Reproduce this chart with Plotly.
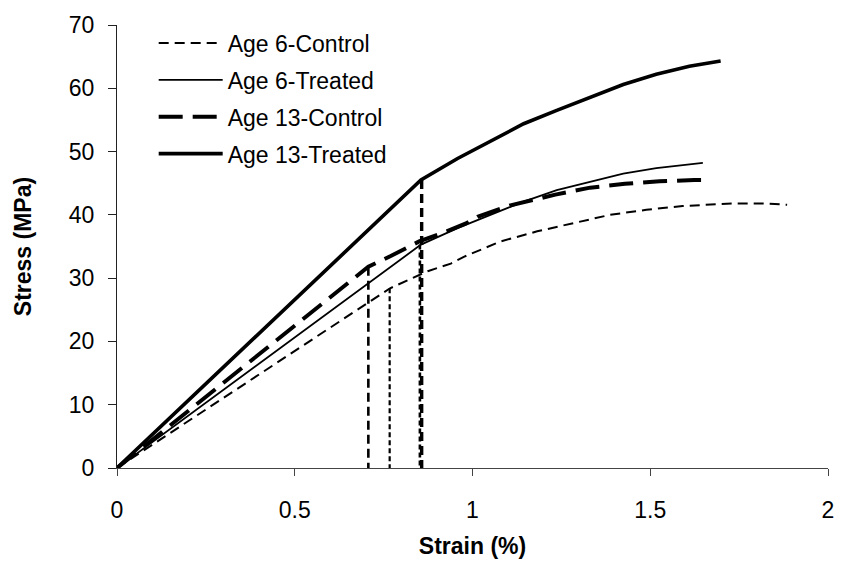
import plotly.graph_objects as go

# ---- data ----
age6_ctrl_strain = [0, 0.768, 0.874, 0.939, 0.977, 1.079, 1.182, 1.284, 1.387, 1.489, 1.591, 1.731, 1.824, 1.885]
age6_ctrl_stress = [0, 28.4, 31.1, 32.3, 33.4, 35.8, 37.4, 38.7, 40.0, 40.8, 41.4, 41.8, 41.8, 41.6]

age6_trt_strain = [0, 0.855, 0.958, 1.051, 1.144, 1.237, 1.331, 1.424, 1.517, 1.610, 1.648]
age6_trt_stress = [0, 35.3, 37.9, 40.0, 42.1, 43.9, 45.2, 46.5, 47.4, 47.9, 48.2]

age13_ctrl_strain = [0, 0.707, 0.77, 0.85, 0.91, 0.98, 1.014, 1.107, 1.233, 1.331, 1.429, 1.526, 1.624, 1.66]
age13_ctrl_stress = [0, 31.8, 33.5, 35.8, 37.0, 38.6, 39.7, 41.5, 43.2, 44.3, 44.9, 45.3, 45.5, 45.5]

age13_trt_strain = [0, 0.855, 0.958, 1.051, 1.144, 1.237, 1.331, 1.424, 1.517, 1.610, 1.698]
age13_trt_stress = [0, 45.5, 48.9, 51.7, 54.4, 56.5, 58.5, 60.6, 62.2, 63.5, 64.3]

# yield-point drop lines: (strain, stress at top)
yield_age6_ctrl = (0.767, 28.4)
yield_age6_trt = (0.852, 35.3)
yield_age13_ctrl = (0.707, 31.8)
yield_age13_trt = (0.857, 45.5)

x_ticks = [0, 0.5, 1, 1.5, 2]
x_tick_labels = ["0", "0.5", "1", "1.5", "2"]
y_ticks = [0, 10, 20, 30, 40, 50, 60, 70]

fig = go.Figure()

series = [
    ("Age 6-Control", age6_ctrl_strain, age6_ctrl_stress, dict(color="black", width=2, dash="10px,6px")),
    ("Age 6-Treated", age6_trt_strain, age6_trt_stress, dict(color="black", width=1.8)),
    ("Age 13-Control", age13_ctrl_strain, age13_ctrl_stress, dict(color="black", width=4, dash="24px,10px")),
    ("Age 13-Treated", age13_trt_strain, age13_trt_stress, dict(color="black", width=3.6)),
]
for i, (name, xs, ys, ln) in enumerate(series):
    fig.add_trace(go.Scatter(x=xs, y=ys, mode="lines", name=name, line=ln,
                             legendgroup="g%d" % i))

drops = [
    (yield_age13_ctrl, dict(color="black", width=2.6, dash="9px,5px")),
    (yield_age6_ctrl, dict(color="black", width=2.2, dash="5px,3px")),
    (yield_age6_trt, dict(color="black", width=2.6, dash="5px,3px")),
    (yield_age13_trt, dict(color="black", width=3.4, dash="9px,5px")),
]
for (xv, yv), ln in drops:
    fig.add_trace(go.Scatter(x=[xv, xv], y=[yv, 0], mode="lines", line=ln,
                             showlegend=False, hoverinfo="skip"))

font_family = "Arial, Liberation Sans, sans-serif"
fig.update_layout(
    width=846, height=569,
    margin=dict(l=117, r=12, t=22, b=101),
    paper_bgcolor="white", plot_bgcolor="white",
    font=dict(family=font_family, color="black", size=23),
    showlegend=True,
    legend=dict(x=0.0516, y=1.008, xanchor="left", yanchor="top",
                bgcolor="rgba(0,0,0,0)", font=dict(size=23, family=font_family),
                itemwidth=64, tracegroupgap=4),
    xaxis=dict(range=[0, 2], tickvals=x_ticks, ticktext=x_tick_labels,
               showgrid=False, zeroline=False, showline=True, linecolor="#444",
               linewidth=1, ticks="outside", ticklen=7, tickcolor="#444",
               tickfont=dict(size=23), ticklabelstandoff=14,
               title=dict(text="<b>Strain (%)</b>", font=dict(size=23), standoff=16)),
    yaxis=dict(range=[0, 70], tickvals=y_ticks, showgrid=False, zeroline=False,
               showline=True, linecolor="#222", linewidth=1, ticks="outside",
               ticklen=8, tickcolor="#222", tickfont=dict(size=23), ticklabelstandoff=9,
               title=dict(text="<b>Stress (MPa)</b>", font=dict(size=23), standoff=30)),
)

fig.write_html("out.html")
